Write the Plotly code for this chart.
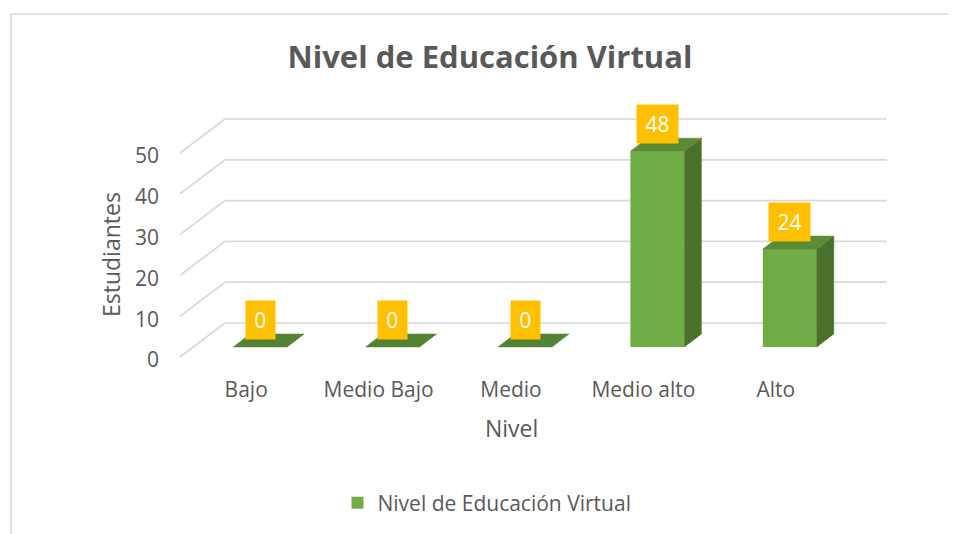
import plotly.graph_objects as go

categories = ["Bajo", "Medio Bajo", "Medio", "Medio alto", "Alto"]
values = [0, 0, 0, 48, 24]
y_ticks = [0, 10, 20, 30, 40, 50]
series_name = "Nivel de Educación Virtual"
title = "Nivel de Educación Virtual"
x_title = "Nivel"
y_title = "Estudiantes"

# page offset (browser body margin)
OFF = 8
W, H = 956 - OFF, 534 - OFF

# pseudo-3D geometry (in axis units)
PX_X = 132.4   # px per category
PX_Y = 4.08    # px per value unit
CAT0 = 246.2 - OFF   # pixel x of first category on front plane
BASE = 347 - OFF     # pixel y of bar base (front face)
front_dy = -10 / PX_Y
label_dy = -13 / PX_Y
back_dx, back_dy = 45 / PX_X, 24 / PX_Y
bar_off = 14 / PX_X
bar_w = 54 / PX_X
dep_dx, dep_dy = 17 / PX_X, 13 / PX_Y

FONT = "Open Sans"
GREY = "#595959"

L, R, T, B = 160 - OFF, 0, 60 - OFF, 534 - 375
PW, PH = W - L - R, H - T - B


def px(p):  # page x -> paper
    return (p - OFF - L) / PW


def py(p):  # page y -> paper
    return (H - B - (p - OFF)) / PH


fig = go.Figure()

# gridlines (front diagonal + back wall), below traces
x0, x1 = -0.5, len(categories) - 0.5
for v in y_ticks:
    fig.add_shape(type="line", x0=x0, y0=v + front_dy, x1=x0 + back_dx, y1=v + back_dy,
                  line=dict(color="#D9D9D9", width=1.7), layer="below")
    fig.add_shape(type="line", x0=x0 + back_dx, y0=v + back_dy, x1=x1 + back_dx, y1=v + back_dy,
                  line=dict(color="#D9D9D9", width=1.7), layer="below")

# front faces
fig.add_trace(go.Bar(
    x=[i + bar_off for i in range(len(categories))], y=values, width=bar_w,
    marker=dict(color="#70AD47", line=dict(width=0)), name=series_name, showlegend=True,
    hoverinfo="y"))

# side and top faces
for i, v in enumerate(values):
    xl = i + bar_off - bar_w / 2
    xr = i + bar_off + bar_w / 2
    if v > 0:
        fig.add_trace(go.Scatter(
            x=[xr, xr + dep_dx, xr + dep_dx, xr, xr],
            y=[0, dep_dy, v + dep_dy, v, 0],
            fill="toself", fillcolor="#4A712B", mode="lines",
            line=dict(color="#4A712B", width=0.5), hoverinfo="skip", showlegend=False))
    top = "#5A8B36" if v > 0 else "#548235"
    fig.add_trace(go.Scatter(
        x=[xl, xl + dep_dx, xr + dep_dx, xr, xl],
        y=[v, v + dep_dy, v + dep_dy, v, v],
        fill="toself", fillcolor=top, mode="lines",
        line=dict(color=top, width=0.5), hoverinfo="skip", showlegend=False))

# data labels
for i, v in enumerate(values):
    fig.add_annotation(x=i + bar_off, y=v, text=str(v), showarrow=False,
                       yanchor="bottom", yshift=7, bgcolor="#FFC000", borderpad=6,
                       width=12.5 * len(str(v)) + 4, height=26,
                       font=dict(family=FONT, size=21, color="white"))

x_lo = (L - CAT0) / PX_X
x_hi = (W - R - CAT0) / PX_X
y_lo = (BASE - (H - B)) / PX_Y
y_hi = (BASE - T) / PX_Y

fig.update_layout(
    width=W, height=H,
    margin=dict(l=L, r=R, t=T, b=B, autoexpand=False),
    paper_bgcolor="white", plot_bgcolor="rgba(0,0,0,0)",
    title=dict(text="<b>" + title + "</b>", x=(490 - OFF) / W, xanchor="center",
               y=1 - (57 - OFF) / H, yanchor="middle",
               font=dict(family=FONT, size=31, color=GREY)),
    font=dict(family=FONT, size=21, color=GREY),
    showlegend=True,
    legend=dict(orientation="h", x=px(487), xanchor="center",
                y=py(503), yanchor="middle",
                font=dict(family=FONT, size=21, color=GREY)),
    xaxis=dict(range=[x_lo, x_hi], tickvals=list(range(len(categories))), ticktext=categories,
               showgrid=False, zeroline=False, showline=False, ticks="",
               tickfont=dict(family=FONT, size=21, color=GREY), fixedrange=True),
    yaxis=dict(range=[y_lo, y_hi], tickvals=[v + label_dy for v in y_ticks],
               ticktext=[str(v) for v in y_ticks],
               showgrid=False, zeroline=False, showline=False, ticks="",
               tickfont=dict(family=FONT, size=21, color=GREY), fixedrange=True),
)

fig.add_annotation(text=y_title, textangle=-90, xref="paper", yref="paper",
                   x=px(111), y=py(255), xanchor="center", yanchor="middle",
                   showarrow=False, font=dict(family=FONT, size=23, color=GREY))
fig.add_annotation(text=x_title, xref="x", yref="paper", x=2, y=py(428),
                   xanchor="center", yanchor="middle",
                   showarrow=False, font=dict(family=FONT, size=23, color=GREY))

# chart frame (left and top edges visible)
fig.add_shape(type="line", xref="paper", yref="paper",
              x0=px(11), x1=px(11), y0=py(540), y1=py(14),
              line=dict(color="#D9D9D9", width=1.5), layer="below")
fig.add_shape(type="line", xref="paper", yref="paper",
              x0=px(11), x1=px(970), y0=py(14), y1=py(14),
              line=dict(color="#D9D9D9", width=1.5), layer="below")

fig.write_html("out.html")
